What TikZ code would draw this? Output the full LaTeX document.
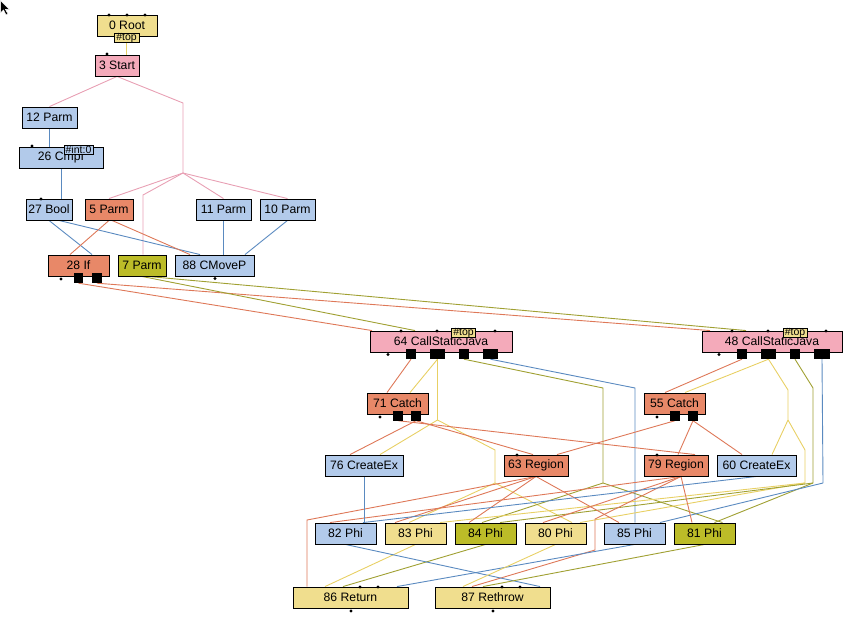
\documentclass[tikz,border=0pt]{standalone}
\usepackage{fontspec}
\setmainfont{Liberation Sans}
\definecolor{fY}{RGB}{240,222,142}
\definecolor{fP}{RGB}{244,170,186}
\definecolor{fB}{RGB}{178,202,234}
\definecolor{fO}{RGB}{232,136,104}
\definecolor{fL}{RGB}{188,188,40}
\definecolor{eY}{RGB}{232,208,100}
\definecolor{eP}{RGB}{232,160,180}
\definecolor{eB}{RGB}{90,138,192}
\definecolor{eO}{RGB}{222,120,88}
\definecolor{eL}{RGB}{160,160,50}
\pgfdeclarelayer{bg}
\pgfsetlayers{bg,main}
\begin{document}
\begin{tikzpicture}[x=1pt,y=-1pt,
 box/.style={draw=black,line width=0.9pt,inner sep=0pt,minimum height=21pt,font=\fontsize{12.2}{14}\selectfont},
 tagbox/.style={draw=black,line width=0.6pt,inner sep=0pt,minimum height=8.5pt,font=\fontsize{10.5}{10}\selectfont},
 dotn/.style={circle,fill=black,inner sep=0pt,minimum size=3.4pt},
 sqn/.style={fill=black,inner sep=0pt,minimum height=10pt},
 ey/.style={draw=eY,line width=0.9pt},
 ep/.style={draw=eP,line width=0.9pt},
 eb/.style={draw=eB,line width=0.9pt},
 eo/.style={draw=eO,line width=0.9pt},
 el/.style={draw=eL,line width=0.9pt}]
\useasboundingbox (0,0) rectangle (861,634);
% cursor
\filldraw[fill=black,draw=white,line width=0.5pt] (0.5,0.5) -- (0.5,13) -- (3.5,10) -- (6,15) -- (8,14) -- (5.5,9.5) -- (9.5,9.5) -- cycle;
% nodes
\node[box,fill=fY,minimum width=60pt] (root) at (127,25.5) {0 Root};
\node[box,fill=fP,minimum width=44pt] (start) at (117,65.5) {3 Start};
\node[box,fill=fB,minimum width=55pt] (p12) at (49.5,117.5) {12 Parm};
\node[box,fill=fB,minimum width=84pt] (cmp) at (61,157.5) {26 CmpI};
\node[box,fill=fB,minimum width=46pt] (bool) at (49,209.5) {27 Bool};
\node[box,fill=fO,minimum width=48pt] (p5) at (109,209.5) {5 Parm};
\node[box,fill=fB,minimum width=55pt] (p11) at (223.5,209.5) {11 Parm};
\node[box,fill=fB,minimum width=55pt] (p10) at (287.5,209.5) {10 Parm};
\node[box,fill=fO,minimum width=61pt] (if) at (78.5,265.5) {28 If};
\node[box,fill=fL,minimum width=48pt] (p7) at (142,265.5) {7 Parm};
\node[box,fill=fB,minimum width=79pt] (cmov) at (214.5,265.5) {88 CMoveP};
\node[box,fill=fP,minimum width=142pt] (csj64) at (441,341.5) {64 CallStaticJava};
\node[box,fill=fP,minimum width=140pt] (csj48) at (772,341.5) {48 CallStaticJava};
\node[box,fill=fO,minimum width=61pt] (c71) at (397.5,403.5) {71 Catch};
\node[box,fill=fO,minimum width=61pt] (c55) at (674.5,403.5) {55 Catch};
\node[box,fill=fB,minimum width=78pt] (ce76) at (364,465.5) {76 CreateEx};
\node[box,fill=fO,minimum width=64pt] (r63) at (536,465.5) {63 Region};
\node[box,fill=fO,minimum width=64pt] (r79) at (676,465.5) {79 Region};
\node[box,fill=fB,minimum width=79pt] (ce60) at (756.5,465.5) {60 CreateEx};
\node[box,fill=fB,minimum width=61pt] (phi82) at (345.5,533.5) {82 Phi};
\node[box,fill=fY,minimum width=61pt] (phi83) at (415.5,533.5) {83 Phi};
\node[box,fill=fL,minimum width=61pt] (phi84) at (485.5,533.5) {84 Phi};
\node[box,fill=fY,minimum width=61pt] (phi80) at (555.5,533.5) {80 Phi};
\node[box,fill=fB,minimum width=61pt] (phi85) at (634.5,533.5) {85 Phi};
\node[box,fill=fL,minimum width=61pt] (phi81) at (704.5,533.5) {81 Phi};
\node[box,fill=fY,minimum width=115pt] (ret86) at (350.5,597.5) {86 Return};
\node[box,fill=fY,minimum width=115pt] (rth87) at (492.5,597.5) {87 Rethrow};
% tags
\node[tagbox,fill=fY,minimum width=25pt] (roottag) at (126.5,38) {\#top};
\node[tagbox,fill=fB,minimum width=29pt] (cmptag) at (78.5,150) {\#int:0};
\node[tagbox,fill=fY,minimum width=24pt] (tag64) at (463.5,332.5) {\#top};
\node[tagbox,fill=fY,minimum width=24pt] (tag48) at (795,332.5) {\#top};
% dots
\node[dotn] (d1) at (109,15) {};
\node[dotn] (d2) at (127,15) {};
\node[dotn] (d3) at (145,15) {};
\node[dotn] (d4) at (107,54) {};
\node[dotn] (d5) at (32,146) {};
\node[dotn] (d6) at (41,199) {};
\node[dotn] (d7) at (61,279) {};
\node[dotn] (d8) at (215,278.5) {};
\node[dotn] (d9) at (401,331) {};
\node[dotn] (d10) at (437,331) {};
\node[dotn] (d11) at (495,331) {};
\node[dotn] (d12) at (388,354.5) {};
\node[dotn] (d13) at (732,331) {};
\node[dotn] (d14) at (768,331) {};
\node[dotn] (d15) at (826,331) {};
\node[dotn] (d16) at (719,354.5) {};
\node[dotn] (d17) at (380,417) {};
\node[dotn] (d18) at (657,417) {};
\node[dotn] (d19) at (517,455) {};
\node[dotn] (d20) at (657,455) {};
\node[dotn] (d21) at (360,587) {};
\node[dotn] (d22) at (378,587) {};
\node[dotn] (d23) at (351,611) {};
\node[dotn] (d24) at (502,587) {};
\node[dotn] (d25) at (520,587) {};
\node[dotn] (d26) at (493,611) {};
% squares
\node[sqn,minimum width=9.5pt] (ifa) at (78.5,278) {};
\node[sqn,minimum width=9.5pt] (ifb) at (97,278) {};
\node[sqn,minimum width=10pt] (s64a) at (411,354) {};
\node[sqn,minimum width=15pt] (s64b) at (437.5,354) {};
\node[sqn,minimum width=10pt] (s64c) at (464,354) {};
\node[sqn,minimum width=15pt] (s64d) at (490.5,354) {};
\node[sqn,minimum width=10pt] (s48a) at (742,354) {};
\node[sqn,minimum width=15pt] (s48b) at (768.5,354) {};
\node[sqn,minimum width=10pt] (s48c) at (795,354) {};
\node[sqn,minimum width=16pt] (s48d) at (822,354) {};
\node[sqn,minimum width=10pt] (s71a) at (398,415.5) {};
\node[sqn,minimum width=10pt] (s71b) at (416,415.5) {};
\node[sqn,minimum width=10pt] (s55a) at (675,415.5) {};
\node[sqn,minimum width=10pt] (s55b) at (693,415.5) {};
% bend coordinates
\coordinate (sp1) at (183,103);
\coordinate (sp2) at (183,173);
\coordinate (sp3) at (143,195);
\coordinate (b1) at (437.5,420);
\coordinate (b2) at (495,450);
\coordinate (b3) at (495,483);
\coordinate (o1) at (603,388);
\coordinate (o2) at (603,483);
\coordinate (bl1) at (635,388);
\coordinate (y1) at (788,390);
\coordinate (y2) at (788,420);
\coordinate (y3) at (805,450);
\coordinate (y4) at (805,483);
\coordinate (o3) at (813,388);
\coordinate (o4) at (813,483);
\coordinate (bl2) at (823,483);
\coordinate (rb1) at (307,520);
\coordinate (rb2) at (595,519);
\coordinate (rb3) at (595,550);
\begin{pgfonlayer}{bg}
% top
\draw[ey] (roottag.south) -- (roottag.south |- start.north);
\draw[ep] (start.south) -- (p12.north);
\draw[ep] (start.south) -- (sp1) -- (sp2);
\draw[ep] (sp2) -- (p5.north);
\draw[ep] (sp2) -- (sp3) -- (sp3 |- p7.north);
\draw[ep] (sp2) -- (p11.north);
\draw[ep] (sp2) -- (p10.north);
\draw[eb] (p12.south) -- (p12.south |- cmp.north);
\draw[eb] (cmp.south) -- (cmp.south |- bool.north);
\draw[eb] (bool.south) -- ([xshift=13.5pt]if.north);
\draw[eb] ([xshift=10pt]bool.south) -- ([xshift=-14.5pt]cmov.north);
\draw[eo] (p5.south) -- ([xshift=-8.5pt]if.north);
\draw[eo] ([xshift=3pt]p5.south) -- ([xshift=-24.5pt]cmov.north);
\draw[eb] (p11.south) -- (p11.south |- cmov.north);
\draw[eb] (p10.south) -- ([xshift=30.5pt]cmov.north);
% to calls
\draw[eo] (ifa.south) -- ([xshift=-69pt]csj64.north);
\draw[eo] (ifb.south) -- ([xshift=-62pt]csj48.north);
\draw[el] (p7.south) -- ([xshift=-26pt]csj64.north);
\draw[el] ([xshift=6pt]p7.south) -- ([xshift=-26pt]csj48.north);
% call 64 outputs
\draw[eo] (s64a.south) -- ([xshift=-10.5pt]c71.north);
\draw[ey] (s64b.south) -- ([xshift=12.5pt]c71.north);
\draw[ey] (s64b.south) -- (b1) -- ([xshift=16pt]ce76.north);
\draw[ey] (b1) -- (b2) -- (b3);
\draw[ey] (b3) -- ([xshift=-6.5pt]phi83.north);
\draw[ey] (b3) -- ([xshift=16.5pt]phi80.north);
\draw[el] (s64c.south) -- (o1) -- (o2);
\draw[el] (o2) -- ([xshift=-3.5pt]phi84.north);
\draw[el] (o2) -- ([xshift=18pt]phi81.north);
\draw[eb] (s64d.south) -- (bl1) -- (bl1 |- phi85.north);
% call 48 outputs
\draw[eo] (s48a.south) -- ([xshift=-9.5pt]c55.north);
\draw[ey] (s48b.south) -- ([xshift=10.5pt]c55.north);
\draw[ey] (s48b.south) -- (y1) -- (y2) -- ([xshift=15.5pt]ce60.north);
\draw[ey] (y2) -- (y3) -- (y4);
\draw[ey] (y4) -- ([xshift=24.5pt]phi83.north);
\draw[ey] (y4) -- ([xshift=24.5pt]phi80.north);
\draw[el] (s48c.south) -- (o3) -- (o4);
\draw[el] (o4) -- ([xshift=14.5pt]phi84.north);
\draw[el] (o4) -- ([xshift=10pt]phi81.north);
\draw[eb] (s48d.south) -- (bl2);
\draw[eb] (bl2) -- ([xshift=25.5pt]phi85.north);
% catches
\draw[eo] (s71b.south) -- ([xshift=-14pt]ce76.north);
\draw[eo] (s71a.south) -- ([xshift=19pt]r79.north);
\draw[eo] (s71b.south) -- ([xshift=-3pt]r63.north);
\draw[eo] (s55a.south) -- ([xshift=21pt]r63.north);
\draw[eo] (s55b.south) -- ([xshift=2pt]r79.north);
\draw[eo] (s55b.south) -- ([xshift=-14.5pt]ce60.north);
% regions
\draw[eo] (r63.south) -- (rb1) -- (rb1 |- ret86.north);
\draw[eo] (r63.south) -- ([xshift=-20.5pt]phi83.north);
\draw[eo] (r63.south) -- ([xshift=-16.5pt]phi84.north);
\draw[eo] (r63.south) -- ([xshift=-15.5pt]phi85.north);
\draw[eo] ([xshift=5pt]r79.south) -- ([xshift=-15.5pt]phi82.north);
\draw[eo] ([xshift=5pt]r79.south) -- ([xshift=-12.5pt]phi80.north);
\draw[eo] ([xshift=5pt]r79.south) -- ([xshift=-12.5pt]phi81.north);
\draw[eo] ([xshift=5pt]r79.south) -- (rb2) -- (rb3) -- ([xshift=-20.5pt]rth87.north);
% create ex
\draw[eb] (ce76.south) -- (ce76.south |- phi82.north);
\draw[eb] (ce60.south) -- ([xshift=17.5pt]phi82.north);
% phis
\draw[ey] (phi83.south) -- ([xshift=-25.5pt]ret86.north);
\draw[el] (phi84.south) -- ([xshift=-7.5pt]ret86.north);
\draw[eb] (phi85.south) -- ([xshift=46.5pt]ret86.north);
\draw[eb] (phi82.south) -- ([xshift=47.5pt]rth87.north);
\draw[ey] (phi80.south) -- ([xshift=-29.5pt]rth87.north);
\draw[el] (phi81.south) -- ([xshift=-9.5pt]rth87.north);
\end{pgfonlayer}
\end{tikzpicture}
\end{document}
